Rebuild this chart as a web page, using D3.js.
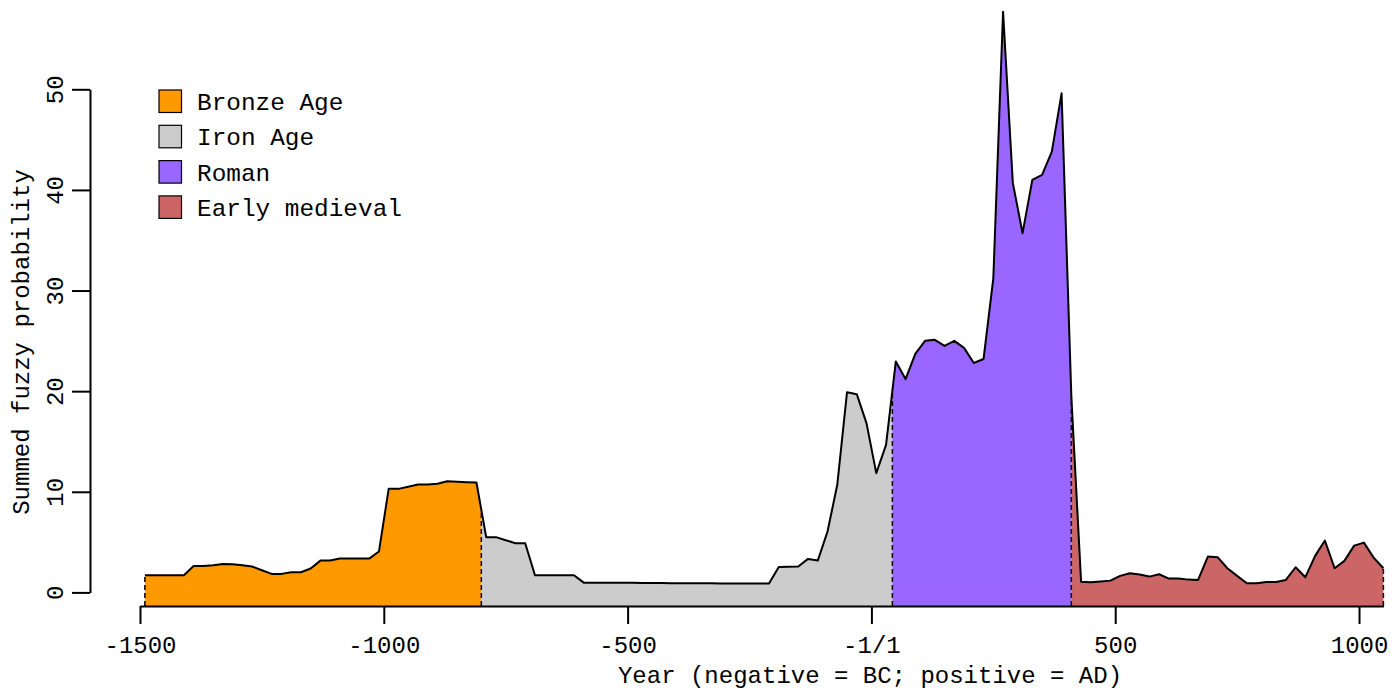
<!DOCTYPE html>
<html>
<head>
<meta charset="utf-8">
<script src="https://cdn.jsdelivr.net/npm/d3@7"></script>
<style>
  html, body { margin: 0; padding: 0; background: #ffffff; }
  svg { display: block; }
  text { font-family: "Liberation Mono", "Courier New", monospace; fill: #000; }
</style>
</head>
<body>
<svg id="chart" width="1396" height="690"></svg>
<script>
// Summed fuzzy probability, sampled every 20 years
const years = [
  -1490, -1470, -1450, -1430, -1410, -1390, -1370, -1350, -1330, -1310,
  -1290, -1270, -1250, -1230, -1210, -1190, -1170, -1150, -1130, -1110,
  -1090, -1070, -1050, -1030, -1010, -990, -970, -950, -930, -910,
  -890, -870, -850, -830, -810, -790, -770, -750, -730, -710,
  -690, -670, -650, -630, -610, -590, -570, -550, -530, -510,
  -490, -470, -450, -430, -410, -390, -370, -350, -330, -310,
  -290, -270, -250, -230, -210, -190, -170, -150, -130, -110,
  -90, -70, -50, -30, -10, 10, 30, 50, 70, 90,
  110, 130, 150, 170, 190, 210, 230, 250, 270, 290,
  310, 330, 350, 370, 390, 410, 430, 450, 470, 490,
  510, 530, 550, 570, 590, 610, 630, 650, 670, 690,
  710, 730, 750, 770, 790, 810, 830, 850, 870, 890,
  910, 930, 950, 970, 990, 1010, 1030, 1050
];
const probability = [
  1.71, 1.71, 1.71, 1.71, 1.71, 2.63, 2.63, 2.70, 2.83, 2.80,
  2.70, 2.57, 2.20, 1.84, 1.84, 2.00, 2.00, 2.37, 3.16, 3.16,
  3.36, 3.36, 3.36, 3.36, 4.06, 10.29, 10.29, 10.50, 10.72, 10.72,
  10.80, 11.05, 11.00, 10.95, 10.92, 5.49, 5.49, 5.19, 4.89, 4.89,
  1.71, 1.71, 1.71, 1.71, 1.71, 0.97, 0.97, 0.97, 0.96, 0.96,
  0.95, 0.94, 0.94, 0.93, 0.92, 0.92, 0.92, 0.92, 0.90, 0.88,
  0.88, 0.88, 0.88, 0.88, 0.88, 2.53, 2.54, 2.57, 3.33, 3.16,
  6.05, 10.70, 19.90, 19.70, 16.80, 11.85, 14.66, 22.94, 21.20, 23.70,
  25.00, 25.10, 24.50, 25.00, 24.30, 22.80, 23.20, 31.20, 57.70, 40.70,
  35.70, 41.00, 41.50, 43.80, 49.60, 19.50, 1.07, 1.00, 1.08, 1.17,
  1.64, 1.90, 1.77, 1.57, 1.80, 1.37, 1.37, 1.27, 1.24, 3.56,
  3.50, 2.40, 1.64, 0.91, 0.91, 1.04, 1.04, 1.24, 2.50, 1.51,
  3.63, 5.15, 2.40, 3.13, 4.65, 4.95, 3.46, 2.40
];

// Periods and their boundaries (years)
const periodNames = ["Bronze Age", "Iron Age", "Roman", "Early medieval"];
const periodColors = ["#FF9900", "#CCCCCC", "#9966FF", "#CC6666"];
const periodBreaks = [-1490, -800, 43, 410, 1050];

// Axis ticks
const xTicks = [-1500, -1000, -500, 0, 500, 1000];
const xTickLabels = ["-1500", "-1000", "-500", "-1/1", "500", "1000"];
const yTicks = [0, 10, 20, 30, 40, 50];

const svg = d3.select("#chart");
const baseY = 606;          // position of the x axis line
const axisX = 90;           // position of the y axis line

const x = d3.scaleLinear().domain([-1500, 1050]).range([140, 1383.4]);
const y = d3.scaleLinear().domain([0, 50]).range([592.4, 89.3]);

const series = years.map((yr, i) => ({ yr, v: probability[i] }));

// linear interpolation of the series at an arbitrary year
function valueAt(yr) {
  if (yr <= years[0]) return probability[0];
  if (yr >= years[years.length - 1]) return probability[probability.length - 1];
  const i = d3.bisectRight(years, yr) - 1;
  const t = (yr - years[i]) / (years[i + 1] - years[i]);
  return probability[i] + t * (probability[i + 1] - probability[i]);
}

const area = d3.area()
  .x(d => x(d.yr))
  .y0(baseY)
  .y1(d => y(d.v));

// one filled region per period
periodNames.forEach((name, k) => {
  const a = periodBreaks[k], b = periodBreaks[k + 1];
  const pts = [{ yr: a, v: valueAt(a) }]
    .concat(series.filter(d => d.yr > a && d.yr < b))
    .concat([{ yr: b, v: valueAt(b) }]);
  svg.append("path")
    .attr("d", area(pts))
    .attr("fill", periodColors[k])
    .attr("stroke", "none");
});

// dashed dividers at the period boundaries
svg.selectAll("line.divider")
  .data(periodBreaks)
  .enter().append("line")
  .attr("class", "divider")
  .attr("x1", d => x(d)).attr("x2", d => x(d))
  .attr("y1", baseY).attr("y2", d => y(valueAt(d)))
  .attr("stroke", "#000")
  .attr("stroke-width", 1.5)
  .attr("stroke-dasharray", "5,3");

// outline of the summed curve
svg.append("path")
  .datum(series)
  .attr("d", d3.line().x(d => x(d.yr)).y(d => y(d.v)))
  .attr("fill", "none")
  .attr("stroke", "#000")
  .attr("stroke-width", 2)
  .attr("stroke-linejoin", "round");

// x axis
const gx = svg.append("g")
  .attr("transform", `translate(0,${baseY})`)
  .call(d3.axisBottom(x)
    .tickValues(xTicks)
    .tickFormat((d, i) => xTickLabels[i])
    .tickSize(18)
    .tickSizeOuter(0));
gx.select(".domain").attr("stroke-width", 2);
gx.selectAll(".tick line").attr("stroke-width", 2);
gx.selectAll(".tick text")
  .attr("y", 46.5).attr("dy", null)
  .attr("font-size", 24)
  .attr("font-family", "Liberation Mono, Courier New, monospace");

// y axis
const gy = svg.append("g")
  .attr("transform", `translate(${axisX},0)`)
  .call(d3.axisLeft(y)
    .tickValues(yTicks)
    .tickSize(18)
    .tickSizeOuter(0));
gy.select(".domain").attr("stroke-width", 2);
gy.selectAll(".tick line").attr("stroke-width", 2);
gy.selectAll(".tick text")
  .attr("x", null).attr("dy", null)
  .attr("text-anchor", "middle")
  .attr("transform", "translate(-27.3,0) rotate(-90)")
  .attr("font-size", 24)
  .attr("font-family", "Liberation Mono, Courier New, monospace");

// axis titles
svg.append("text")
  .attr("x", 870).attr("y", 683)
  .attr("text-anchor", "middle")
  .attr("font-size", 24)
  .text("Year (negative = BC; positive = AD)");

svg.append("text")
  .attr("transform", "translate(28.5,342) rotate(-90)")
  .attr("text-anchor", "middle")
  .attr("font-size", 24)
  .text("Summed fuzzy probability");

// legend
const legend = svg.append("g");
periodNames.forEach((name, k) => {
  const top = 90 + k * 35.3;
  legend.append("rect")
    .attr("x", 159).attr("y", top)
    .attr("width", 22.5).attr("height", 22.5)
    .attr("fill", periodColors[k])
    .attr("stroke", "#000")
    .attr("stroke-width", 1.2);
  legend.append("text")
    .attr("x", 197).attr("y", top + 20)
    .attr("font-size", 24.4)
    .text(name);
});
</script>
</body>
</html>
